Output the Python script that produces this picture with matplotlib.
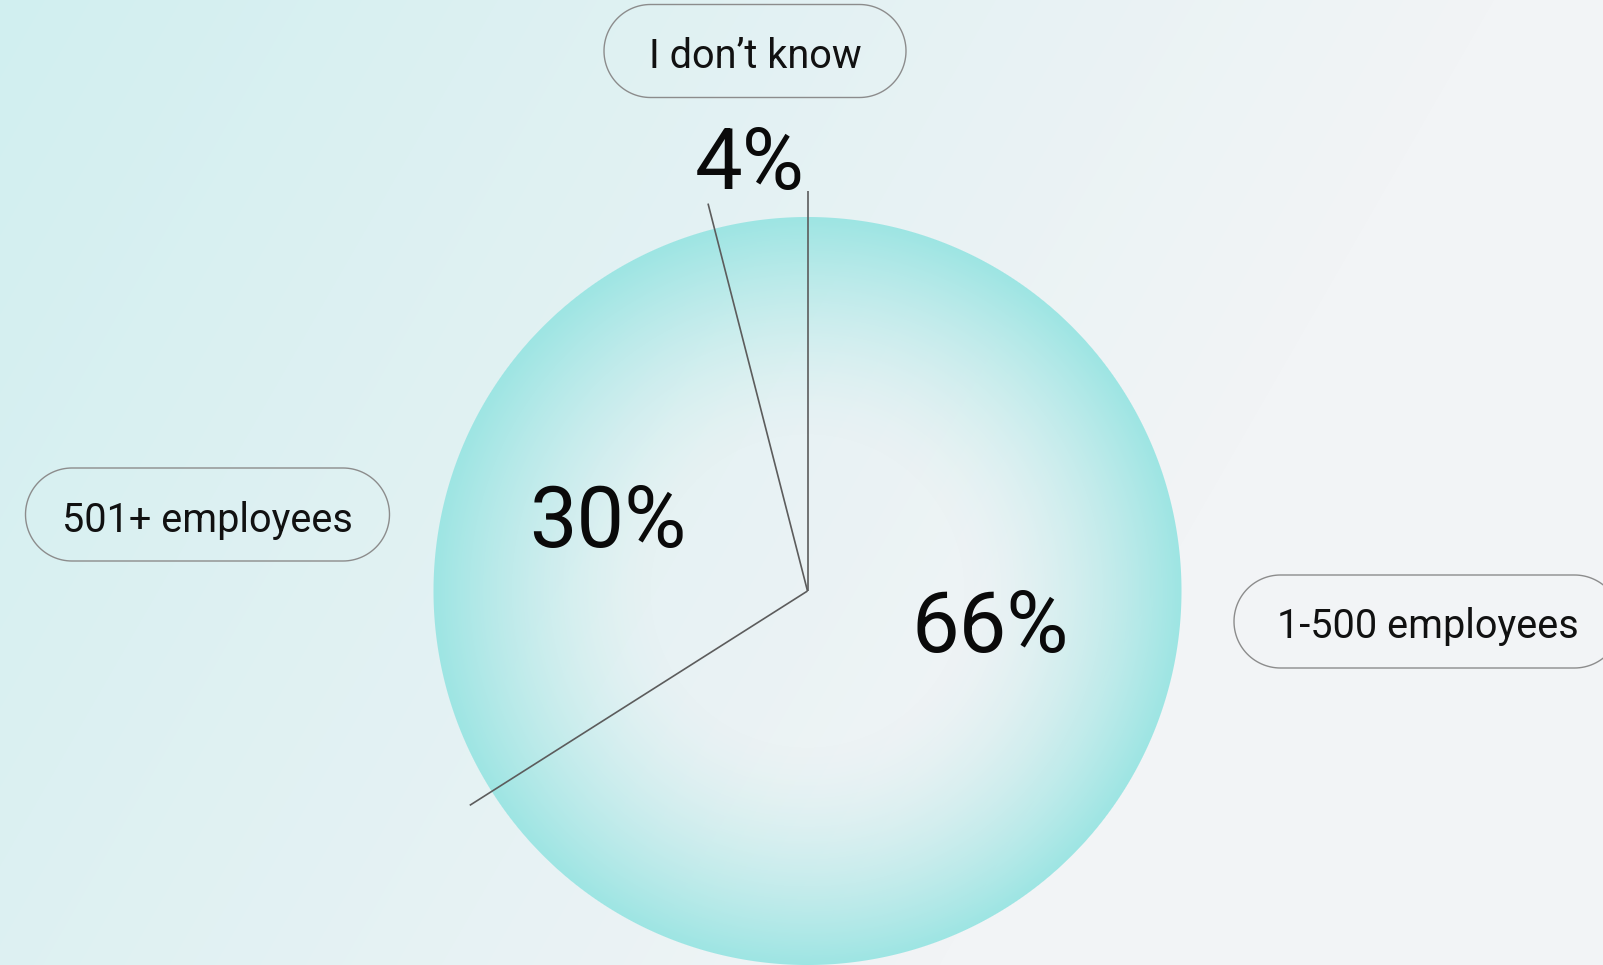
import numpy as np
import matplotlib
matplotlib.use('Agg')
import matplotlib.pyplot as plt
from matplotlib.patches import Polygon
from matplotlib.colors import to_rgb

# survey answers, counter-clockwise from 12 o'clock
labels = ['I don\u2019t know', '501+ employees', '1-500 employees']
shares = [4, 30, 66]
pct_text = ['4%', '30%', '66%']

W, H = 1603, 965


def pill(ax, xc, yc, w, h):
    # stadium shape: two half circles joined by straight sides
    r = h / 2
    a = np.linspace(-np.pi / 2, np.pi / 2, 60)
    right = np.c_[xc + w / 2 - r + r * np.cos(a), yc + r * np.sin(a)]
    left = np.c_[xc - w / 2 + r - r * np.cos(a), yc - r * np.sin(a)]
    pts = np.vstack([right, left])
    ax.add_patch(Polygon(pts, closed=True, fc='none', ec='#8c8c8c', lw=1.0, zorder=4))


def main():
    fig = plt.figure(figsize=(W / 100, H / 100), dpi=100)
    ax = fig.add_axes([0, 0, 1, 1])
    ax.set_xlim(0, W)
    ax.set_ylim(H, 0)
    ax.axis('off')

    yy, xx = np.mgrid[0:H, 0:W] + 0.5

    # background: diagonal cyan -> grey
    c0 = np.array(to_rgb('#d1eff0'))
    c1 = np.array(to_rgb('#f2f4f6'))
    t = np.clip((xx * 0.87 + yy * 0.5) / 1300, 0, 1)[..., None]
    bg = c0 * (1 - t) + c1 * t
    ax.imshow(bg, extent=(0, W, H, 0), zorder=0, interpolation='bilinear')

    # circle with radial gradient, cyan at the rim
    cx, cy, R = 807.5, 591, 374
    r = np.hypot(xx - cx, yy - cy)
    alpha = np.clip((r / R - 0.4) / 0.6, 0, 1) ** 1.6
    alpha *= np.clip(R - r + 0.5, 0, 1)
    disc = np.zeros((H, W, 4))
    disc[..., :3] = to_rgb('#9de5e3')
    disc[..., 3] = alpha
    ax.imshow(disc, extent=(0, W, H, 0), zorder=1, interpolation='bilinear')

    # slice borders as lines from the centre
    bounds = np.cumsum([0] + shares[:-1]) / sum(shares) * 2 * np.pi + np.pi / 2
    L = 400
    for a in bounds:
        ax.plot([cx, cx + L * np.cos(a)], [cy, cy - L * np.sin(a)],
                color='#5c5c5c', lw=1.2, zorder=3, solid_capstyle='butt')

    # pill labels (centre x, centre y, width, text baseline)
    pills = [(755, 51, 302, 67.5), (207.5, 514.5, 364, 531.5), (1427.5, 621.5, 387, 638)]
    for lab, (px, py, pw, base) in zip(labels, pills):
        pill(ax, px, py, pw, 93)
        ax.text(px, base, lab, ha='center', va='baseline', fontsize=28.5,
                family='Roboto', color='#111111', zorder=5)

    # percentage numbers (x, baseline y)
    pct_pos = [(750, 189), (608, 547), (990, 652)]
    for txt, (tx, ty) in zip(pct_text, pct_pos):
        ax.text(tx, ty, txt, ha='center', va='baseline', fontsize=61,
                family='Roboto', color='#0a0a0a', zorder=5)

    plt.savefig('out.png', dpi=100)


if __name__ == '__main__':
    main()
